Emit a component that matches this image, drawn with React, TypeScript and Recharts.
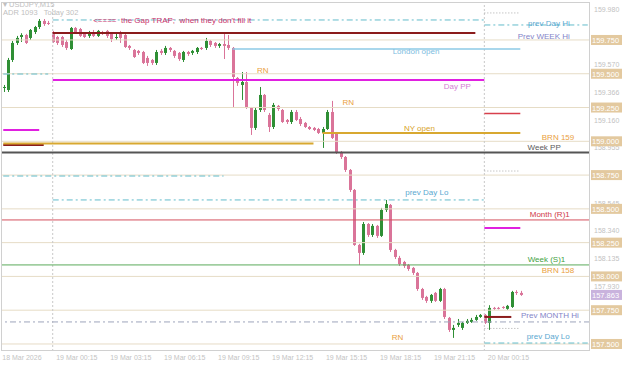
import React from "react";
import { ComposedChart, Bar, XAxis, YAxis, ReferenceLine, ReferenceDot } from "recharts";

type Ohlc = [number, number, number, number]; // open, high, low, close

// 18 Mar (last candles of the day)
const day18: Ohlc[] = [
  [159.395, 159.417, 159.365, 159.402],
  [159.380, 159.617, 159.365, 159.602],
  [159.602, 159.743, 159.587, 159.728],
  [159.728, 159.780, 159.713, 159.765],
  [159.772, 159.800, 159.735, 159.787],
  [159.787, 159.795, 159.720, 159.728],
  [159.765, 159.831, 159.750, 159.824],
  [159.809, 159.854, 159.794, 159.846],
  [159.846, 159.905, 159.831, 159.891],
  [159.891, 159.905, 159.854, 159.868],
  [159.876, 159.891, 159.861, 159.872],
];

// 19 Mar
const day19: Ohlc[] = [
  [159.809, 159.817, 159.728, 159.735],
  [159.772, 159.780, 159.713, 159.728],
  [159.772, 159.780, 159.698, 159.713],
  [159.735, 159.750, 159.676, 159.691],
  [159.683, 159.846, 159.676, 159.839],
  [159.839, 159.846, 159.802, 159.809],
  [159.831, 159.839, 159.772, 159.780],
  [159.802, 159.809, 159.765, 159.772],
  [159.780, 159.817, 159.765, 159.809],
  [159.809, 159.824, 159.772, 159.780],
  [159.780, 159.824, 159.772, 159.817],
  [159.809, 159.817, 159.787, 159.802],
  [159.817, 159.824, 159.765, 159.780],
  [159.802, 159.809, 159.735, 159.757],
  [159.765, 159.795, 159.750, 159.772],
  [159.809, 159.817, 159.728, 159.765],
  [159.787, 159.795, 159.691, 159.698],
  [159.706, 159.713, 159.676, 159.691],
  [159.676, 159.683, 159.617, 159.624],
  [159.669, 159.676, 159.639, 159.654],
  [159.661, 159.669, 159.572, 159.580],
  [159.617, 159.632, 159.558, 159.580],
  [159.602, 159.609, 159.565, 159.580],
  [159.580, 159.676, 159.565, 159.661],
  [159.669, 159.683, 159.639, 159.654],
  [159.654, 159.706, 159.639, 159.691],
  [159.691, 159.698, 159.661, 159.676],
  [159.669, 159.676, 159.617, 159.632],
  [159.654, 159.661, 159.595, 159.609],
  [159.602, 159.669, 159.587, 159.661],
  [159.661, 159.669, 159.632, 159.646],
  [159.654, 159.676, 159.639, 159.669],
  [159.661, 159.698, 159.646, 159.691],
  [159.691, 159.698, 159.676, 159.683],
  [159.691, 159.765, 159.676, 159.743],
  [159.743, 159.750, 159.698, 159.713],
  [159.728, 159.735, 159.691, 159.706],
  [159.706, 159.728, 159.691, 159.720],
  [159.720, 159.802, 159.609, 159.706],
  [159.713, 159.787, 159.676, 159.691],
  [159.691, 159.698, 159.254, 159.476],
  [159.469, 159.476, 159.410, 159.432],
  [159.417, 159.513, 159.306, 159.439],
  [159.439, 159.513, 159.240, 159.247],
  [159.247, 159.254, 159.047, 159.099],
  [159.099, 159.247, 159.084, 159.232],
  [159.232, 159.402, 159.217, 159.343],
  [159.343, 159.350, 159.217, 159.232],
  [159.195, 159.210, 159.069, 159.106],
  [159.106, 159.284, 159.091, 159.269],
  [159.262, 159.269, 159.225, 159.239],
  [159.232, 159.239, 159.136, 159.143],
  [159.158, 159.165, 159.128, 159.143],
  [159.143, 159.232, 159.128, 159.217],
  [159.217, 159.232, 159.150, 159.158],
  [159.165, 159.180, 159.113, 159.128],
  [159.136, 159.143, 159.099, 159.106],
  [159.106, 159.113, 159.084, 159.091],
  [159.099, 159.106, 159.076, 159.084],
  [159.091, 159.099, 159.054, 159.062],
  [159.062, 159.106, 158.951, 159.091],
  [159.091, 159.232, 159.084, 159.217],
  [159.217, 159.299, 159.017, 159.025],
  [159.062, 159.069, 158.906, 158.921],
  [158.921, 158.928, 158.869, 158.884],
  [158.884, 158.891, 158.773, 158.788],
  [158.788, 158.795, 158.625, 158.640],
  [158.640, 158.647, 158.226, 158.233],
  [158.233, 158.241, 158.085, 158.174],
  [158.174, 158.403, 158.159, 158.388],
  [158.388, 158.395, 158.292, 158.307],
  [158.307, 158.388, 158.292, 158.374],
  [158.374, 158.381, 158.285, 158.300],
  [158.300, 158.507, 158.292, 158.492],
  [158.492, 158.566, 158.477, 158.536],
  [158.529, 158.536, 158.181, 158.196],
  [158.196, 158.204, 158.129, 158.144],
  [158.137, 158.152, 158.078, 158.092],
  [158.107, 158.115, 158.063, 158.078],
  [158.085, 158.092, 158.041, 158.055],
  [158.063, 158.070, 158.011, 158.026],
  [158.026, 158.033, 157.893, 157.907],
  [157.907, 157.915, 157.826, 157.841],
  [157.848, 157.856, 157.804, 157.819],
  [157.819, 157.870, 157.804, 157.863],
  [157.878, 157.885, 157.811, 157.819],
  [157.819, 157.915, 157.811, 157.907],
  [157.907, 157.915, 157.685, 157.700],
  [157.693, 157.700, 157.589, 157.604],
  [157.604, 157.641, 157.545, 157.619],
  [157.641, 157.685, 157.626, 157.656],
  [157.619, 157.663, 157.604, 157.656],
  [157.656, 157.685, 157.648, 157.671],
  [157.663, 157.693, 157.656, 157.678],
  [157.678, 157.715, 157.671, 157.700],
  [157.700, 157.722, 157.693, 157.715],
];

// 20 Mar
const day20: Ohlc[] = [
  [157.715, 157.722, 157.648, 157.656],
  [157.656, 157.787, 157.604, 157.767],
  [157.767, 157.774, 157.752, 157.760],
  [157.767, 157.774, 157.755, 157.762],
  [157.774, 157.780, 157.760, 157.767],
  [157.760, 157.789, 157.752, 157.782],
  [157.774, 157.893, 157.767, 157.885],
  [157.885, 157.898, 157.863, 157.878],
  [157.878, 157.893, 157.856, 157.863],
];

const emptySlots = 15; // free space right of the last bar

const timeTicks = [0, 12, 24, 36, 48, 60, 72, 84, 96, 108];
const timeLabels = [
  "18 Mar 2026", "19 Mar 00:15", "19 Mar 03:15", "19 Mar 06:15", "19 Mar 09:15",
  "19 Mar 12:15", "19 Mar 15:15", "19 Mar 18:15", "19 Mar 21:15", "20 Mar 00:15",
];
const daySeparators = [11, 107];

const roundLevels = [159.75, 159.5, 159.25, 159.0, 158.75, 158.5, 158.25, 158.0, 157.75, 157.5];
const scaleLabels = [159.98, 159.57, 159.366, 159.16, 158.955, 158.545, 158.34, 158.135, 157.93];
const lastPrice = 157.863;

// [kind, price, from slot, to slot]  (-1 = across the whole chart)
const levels: [string, number, number, number][] = [
  ["prevDayHi", 159.498, 0, 10],
  ["prevDayHi", 159.898, 11, 107],
  ["prevDayHi", 159.861, 107, 130],
  ["dotted", 159.95, 107, 115],
  ["gap", 158.973, 0, 9],
  ["gap", 159.802, 11, 105],
  ["gap", 157.7, 107, 113],
  ["london", 159.683, 51, 115],
  ["dayPP", 159.084, 0, 8],
  ["dayPP", 159.454, 11, 107],
  ["dayPP", 158.359, 107, 115],
  ["session", 158.984, 0, 69],
  ["session", 159.062, 71, 115],
  ["dayR1", 159.206, 107, 115],
  ["dotted", 158.78, 107, 115],
  ["dotted", 157.615, 107, 115],
  ["prevDayLo", 158.743, 0, 49],
  ["prevDayLo", 158.566, 11, 107],
  ["prevDayLo", 157.507, 107, 130],
  ["weekPP", 158.917, -1, -1],
  ["monthR1", 158.418, -1, -1],
  ["weekS1", 158.085, -1, -1],
  ["prevMonthHi", 157.663, -1, -1],
];

// [kind, text, slot, price]
const notes: [string, string, number, number][] = [
  ["gap", "<====  the Gap TRAP;  when they don't fill it", 20, 159.898],
  ["dayHiLo", "prev Day Hi", 126, 159.876],
  ["prevHi", "Prev WEEK Hi", 126, 159.78],
  ["london", "London open", 97, 159.669],
  ["rn", "RN", 59, 159.528],
  ["dayPP", "Day PP", 104, 159.41],
  ["rn", "RN", 78, 159.291],
  ["ny", "NY open", 96, 159.099],
  ["rn", "BRN 159", 127, 159.032],
  ["weekPP", "Week PP", 124, 158.958],
  ["dayHiLo", "prev Day Lo", 99, 158.625],
  ["monthR1", "Month (R)1", 126, 158.462],
  ["weekS1", "Week (S)1", 125, 158.129],
  ["rn", "BRN 158", 127, 158.048],
  ["prevHi", "Prev MONTH Hi", 128, 157.713],
  ["rn", "RN", 89, 157.552],
  ["dayHiLo", "prev Day Lo", 126, 157.559],
];

const lineStyles: Record<string, { stroke: string; width: number; dash?: string }> = {
  round: { stroke: "#e6dcc6", width: 1 },
  prevDayHi: { stroke: "#62bccb", width: 1, dash: "6 3 2 3" },
  prevDayLo: { stroke: "#62bccb", width: 1, dash: "6 3 2 3" },
  dotted: { stroke: "#aaaaaa", width: 1, dash: "1 2" },
  gap: { stroke: "#8b1c1c", width: 2 },
  london: { stroke: "#8ccae6", width: 1.5 },
  dayPP: { stroke: "#e020e0", width: 2 },
  session: { stroke: "#d8a830", width: 2 },
  dayR1: { stroke: "#d8404c", width: 1.5 },
  weekPP: { stroke: "#555555", width: 2 },
  monthR1: { stroke: "#d4505e", width: 1 },
  weekS1: { stroke: "#5aaa5a", width: 1 },
  prevMonthHi: { stroke: "#9ea4bc", width: 1, dash: "6 3 2 3" },
};

const noteColors: Record<string, string> = {
  gap: "#c8306a",
  dayHiLo: "#5aa8d0",
  prevHi: "#8484c8",
  london: "#7cbce0",
  rn: "#eaa040",
  dayPP: "#d37fd3",
  ny: "#d8a428",
  weekPP: "#5a5a5a",
  monthR1: "#d03848",
  weekS1: "#3f9f3f",
};

const UP = "#2f8f35";
const DOWN = "#da7499";
const FONT = "'Liberation Sans', Arial, sans-serif";

const candles = [...day18, ...day19, ...day20];
const data = Array.from({ length: candles.length + emptySlots }, (_, slot) => {
  const c = candles[slot];
  if (!c) return { slot };
  return { slot, open: c[0], high: c[1], low: c[2], close: c[3], range: [c[2], c[1]] };
});

const Candle = (props: any) => {
  const { x, y, width, height, payload } = props;
  if (!payload || payload.range == null) return null;
  const { open, close, high, low } = payload;
  const top = Math.min(y, y + height);
  const span = Math.abs(height);
  const py = (p: number) => top + ((high - p) / (high - low)) * span;
  const color = close >= open ? UP : DOWN;
  const cx = Math.round(x + width / 2) + 0.5;
  const b1 = py(Math.max(open, close));
  const b2 = py(Math.min(open, close));
  return (
    <g>
      <line x1={cx} x2={cx} y1={top} y2={top + span} stroke={color} strokeWidth={1} />
      <rect x={cx - 1.5} y={b1} width={3} height={Math.max(1, b2 - b1)} fill={color} />
    </g>
  );
};

const PriceTick = (props: any) => {
  const { y, payload } = props;
  const v = payload.value as number;
  const label = v.toFixed(3);
  if (roundLevels.includes(v) || v === lastPrice) {
    return (
      <g>
        <rect x={591} y={y - 5} width={31} height={10} fill={v === lastPrice ? "#c9b3dd" : "#e3c99f"} />
        <text x={592} y={y + 3} fill="#ffffff" fontSize={7.5} fontFamily={FONT}>{label}</text>
      </g>
    );
  }
  return (
    <text x={594} y={y + 3} fill="#c2c2c2" fontSize={7} fontFamily={FONT}>{label}</text>
  );
};

const TimeTick = (props: any) => {
  const { x, payload } = props;
  const i = timeTicks.indexOf(payload.value);
  return (
    <text x={x - 1} y={360} fill="#c4c4c4" fontSize={7} fontFamily={FONT}>{timeLabels[i]}</text>
  );
};

export default function App() {
  return (
    <div style={{ position: "absolute", left: 0, top: 0, width: 625, height: 365, background: "#fff" }}>
      <ComposedChart width={625} height={365} data={data} margin={{ top: 2, right: 0, bottom: 0, left: 1 }}>
        <XAxis dataKey="slot" ticks={timeTicks} interval={0} tick={<TimeTick />} axisLine={false} tickLine={false} height={14} />
        <YAxis
          orientation="right"
          width={35}
          domain={[157.448, 160.031]}
          type="number"
          allowDataOverflow
          interval={0}
          ticks={[...scaleLabels, ...roundLevels, lastPrice]}
          tick={<PriceTick />}
          axisLine={false}
          tickLine={false}
        />
        {roundLevels.map((p) => (
          <ReferenceLine key={"rn" + p} y={p} stroke={lineStyles.round.stroke} strokeWidth={1} />
        ))}
        {daySeparators.map((s) => (
          <ReferenceLine key={"sep" + s} x={s} stroke="#c8c8c8" strokeDasharray="2 2" />
        ))}
        {levels.map(([kind, price, from, to], i) => {
          const st = lineStyles[kind];
          return from < 0 ? (
            <ReferenceLine key={i} y={price} stroke={st.stroke} strokeWidth={st.width} strokeDasharray={st.dash} />
          ) : (
            <ReferenceLine
              key={i}
              segment={[{ x: from, y: price }, { x: to, y: price }]}
              stroke={st.stroke}
              strokeWidth={st.width}
              strokeDasharray={st.dash}
            />
          );
        })}
        <Bar dataKey="range" barSize={3} shape={<Candle />} isAnimationActive={false} />
        {notes.map(([kind, text, slot, price], i) => (
          <ReferenceDot
            key={"n" + i}
            x={slot}
            y={price}
            r={0}
            ifOverflow="visible"
            shape={(p: any) => (
              <text
                x={p.cx}
                y={p.cy}
                dy="0.35em"
                textAnchor={kind === "gap" ? "start" : "end"}
                fill={noteColors[kind]}
                fontSize={8}
                fontFamily={FONT}
                style={{ whiteSpace: "pre" }}
              >
                {text}
              </text>
            )}
          />
        ))}
      </ComposedChart>
      <div style={{ position: "absolute", left: 1, top: 2, width: 589, height: 349, border: "1px solid #d0d0d0", boxSizing: "border-box", pointerEvents: "none" }} />
      <div style={{ position: "absolute", left: 3, top: 1, fontSize: 7.5, color: "#c0c0c0", fontFamily: FONT, lineHeight: "8px" }}>
        <div>▾ USDJPY,M15</div>
        <div>ADR 1093&nbsp;&nbsp; Today 302</div>
      </div>
    </div>
  );
}
